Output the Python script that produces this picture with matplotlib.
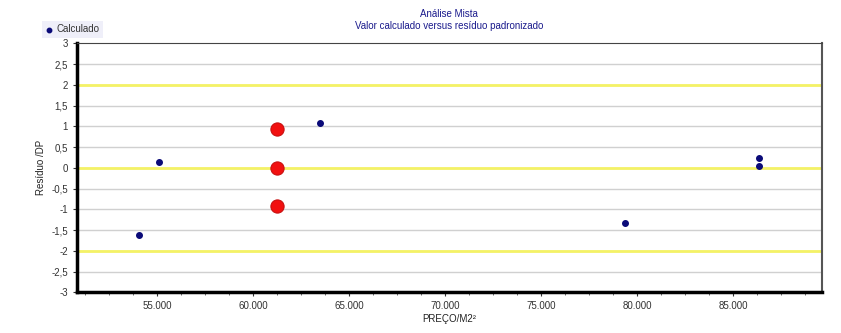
import numpy as np
import matplotlib; matplotlib.use("Agg")
import matplotlib.pyplot as plt
from matplotlib.ticker import FuncFormatter, MultipleLocator

# dados
calc_x = [54080, 55100, 63490, 79380, 86350, 86350]
calc_y = [-1.63, 0.15, 1.08, -1.34, 0.23, 0.05]
dest_x = [61230, 61230, 61230]
dest_y = [0.93, 0.0, -0.92]
limites = [2, 0, -2]

plt.rcParams["font.family"] = ["Liberation Sans", "DejaVu Sans"]

fig = plt.figure(figsize=(8.41, 3.33), dpi=100)
ax = fig.add_axes([0.0916, 0.122, 0.8858, 0.748])

for v in np.arange(-2.5, 3.0, 0.5):
    ax.axhline(v, color="#d0d0d0", lw=1.0, zorder=1)
for v in limites:
    ax.axhline(v, color="#f4f266", lw=2.0, zorder=2)

ax.scatter(dest_x, dest_y, s=90, color="#f21010", edgecolors="#c81010", lw=0.8, zorder=4)
ax.scatter(calc_x, calc_y, s=16, marker="o", color="#0a0a78", zorder=5, label="Calculado")

ax.set_xlim(50830, 89620)
ax.set_ylim(-3, 3)
ax.xaxis.set_major_locator(MultipleLocator(5000))
ax.xaxis.set_minor_locator(MultipleLocator(1250))
ax.yaxis.set_major_locator(MultipleLocator(0.5))
ax.xaxis.set_major_formatter(FuncFormatter(lambda v, p: f"{v:,.0f}".replace(",", ".")))
ax.yaxis.set_major_formatter(FuncFormatter(lambda v, p: f"{v:g}".replace(".", ",")))
ax.tick_params(labelsize=7, colors="#333333", length=3, width=0.8)
ax.tick_params(which="minor", length=2, color="#555555")
ax.set_xlabel("PREÇO/M2²", fontsize=7, color="#222222", labelpad=2)
ax.set_ylabel("Resíduo /DP", fontsize=7, color="#222222", labelpad=4)

ax.spines["left"].set_linewidth(2.5)
ax.spines["bottom"].set_linewidth(2.5)
ax.spines["left"].set_color("black")
ax.spines["bottom"].set_color("black")
ax.spines["top"].set_color("#444444")
ax.spines["right"].set_color("#555555")
ax.spines["top"].set_linewidth(0.8)
ax.spines["right"].set_linewidth(1.5)

fig.text(0.534, 0.958, "Análise Mista", ha="center", va="center", fontsize=7, color="#1a1a8c")
fig.text(0.534, 0.922, "Valor calculado versus resíduo padronizado", ha="center", va="center",
         fontsize=7, color="#1a1a8c")

leg = fig.legend(loc="center left", bbox_to_anchor=(0.044, 0.912), fontsize=7, frameon=True,
                 handletextpad=0.4, borderpad=0.35, handlelength=0.8, markerscale=0.8)
leg.get_frame().set_facecolor("#ececf8")
leg.get_frame().set_edgecolor("none")
leg.get_frame().set_boxstyle("square", pad=0)
for t in leg.get_texts():
    t.set_color("#333333")

fig.savefig("out.png", dpi=100)
